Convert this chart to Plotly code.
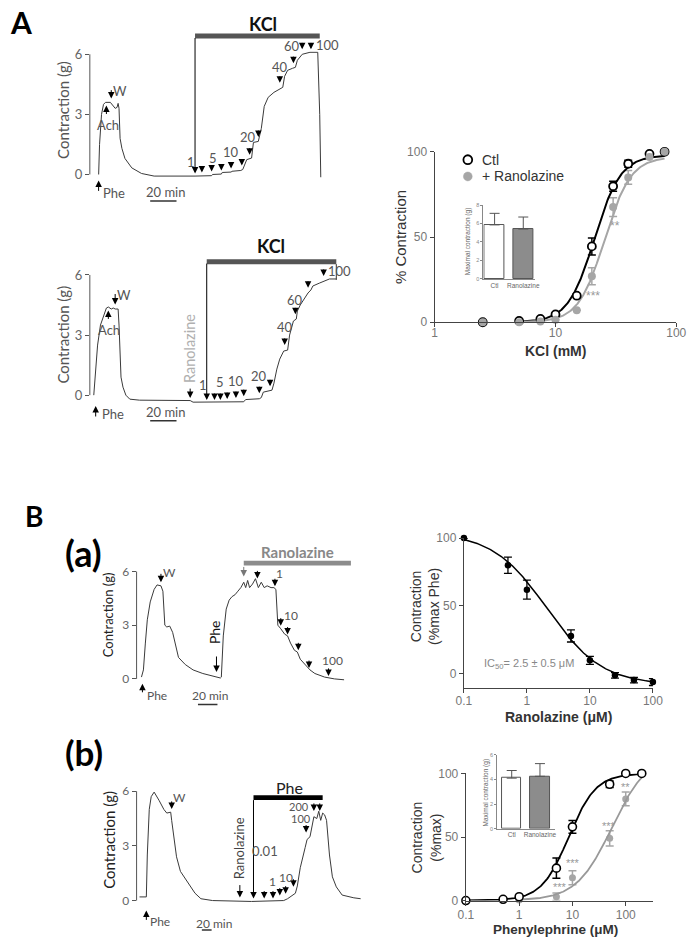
import numpy as np
import plotly.graph_objects as go

# ------------------------------------------------------------------ DATA
# Panel A - isometric tension recordings (time in min, force in g)
a1_time = [6.7, 7.4, 8.9, 10.4, 11.9, 15.6, 19.3, 20.7, 21.5, 22.2, 23.0, 24.4, 26.7, 31.9, 39.3,
           48.9, 80.0, 92.6, 93.3, 100.0, 100.7, 107.4, 108.1, 114.8, 116.3, 119.3, 123.0, 124.4,
           128.1, 130.4, 132.6, 135.6, 140.0, 145.2, 146.7, 148.1, 150.4, 154.1, 156.3, 157.8,
           161.5, 167.4, 173.3, 174.8, 175.6]
a1_force = [0.0, 1.5, 3.0, 3.5, 3.6, 3.6, 3.3, 3.35, 3.55, 3.3, 1.8, 1.3, 0.8, 0.33, 0.05,
            -0.08, -0.08, -0.06, 0.0, 0.02, 0.1, 0.12, 0.16, 0.2, 0.25, 0.74, 0.82, 1.6,
            1.65, 2.3, 3.4, 3.85, 4.1, 4.3, 4.35, 4.9, 5.2, 5.3, 5.35, 5.7,
            6.0, 6.1, 6.1, 3.0, -0.15]
a2_time = [3.0, 4.4, 5.9, 8.1, 10.4, 12.6, 14.1, 16.3, 17.8, 19.3, 21.5, 22.2, 23.7, 25.2, 27.4,
           30.4, 37.8, 76.3, 78.5, 117.0, 118.5, 128.9, 130.4, 131.9, 138.5, 140.0, 142.2, 144.4,
           147.4, 150.4, 151.9, 154.8, 157.0, 157.8, 160.0, 163.0, 165.9, 168.1, 169.6, 174.8,
           182.2, 187.4]
a2_force = [0.0, 1.4, 2.5, 3.5, 4.0, 4.35, 4.4, 4.3, 4.35, 4.3, 4.3, 3.5, 0.9, 0.4, 0.0,
            -0.2, -0.25, -0.27, -0.35, -0.33, -0.22, -0.18, -0.12, 0.15, 0.25, 0.6, 1.3, 1.8,
            2.2, 2.25, 3.0, 3.7, 3.8, 4.2, 4.5, 4.8, 5.1, 5.25, 5.45, 5.6,
            5.8, 5.8]

# Panel A - KCl concentration-response (% contraction)
kcl_conc = [2.5, 5, 7.5, 10, 15, 20, 30, 40, 60, 80]
kcl_ctl = [0, 0.8, 2, 4.6, 15.6, 44.5, 79.8, 93, 98.8, 100]
kcl_ctl_sem = [0, 0, 0, 0, 0, 5, 3, 2, 0, 0]
kcl_ran = [0, 0, 0.5, 1.5, 7, 27, 67.6, 85, 97, 100]
kcl_ran_sem = [0, 0, 0, 0, 0, 5, 5.5, 4, 0, 0]
kcl_fit_ctl = dict(top=98, ec50=21.0, n=4.0)
kcl_fit_ran = dict(top=97, ec50=25.5, n=4.0)
kcl_fit_span = [5, 80]
legend_labels = ["Ctl", "+ Ranolazine"]

# Insets - maximal contraction (g)
inset_groups = ["Ctl", "Ranolazine"]
kcl_max = [5.85, 5.4]
kcl_max_sem = [1.25, 1.3]
phe_max = [4.1, 4.25]
phe_max_sem = [0.62, 1.03]

# Panel B(a) - recording and ranolazine relaxation curve
ba_time = [5, 7, 9, 11, 14, 18, 21, 25, 27, 29, 31, 34, 37, 40, 43, 50, 58, 68, 83, 86,
           87, 89, 92, 95, 98, 101, 104, 107, 110, 112, 114, 116, 119, 122, 125, 128, 131, 134,
           138, 141, 143, 145, 148, 152, 155, 158, 162, 165, 168, 173, 178, 183, 188, 193, 203, 213]
ba_force = [0.1, 0.5, 2.0, 3.3, 4.3, 5.0, 5.25, 5.2, 4.9, 3.0, 2.9, 2.95, 2.6, 1.8, 1.2, 0.8,
            0.5, 0.3, 0.1, 0.05, 0.1, 2.4, 3.9, 4.4, 4.6, 4.7, 4.9, 5.1, 5.4, 5.1, 5.5, 5.1,
            5.3, 5.6, 5.1, 5.4, 5.1, 5.2, 5.1, 5.1, 5.0, 3.0, 2.8, 2.5, 2.4, 2.0, 1.6, 1.5,
            1.1, 0.8, 0.5, 0.3, 0.2, 0.1, 0.0, -0.05]
ran_conc = [0.1, 0.5, 1, 5, 10, 25, 50, 100]
ran_resp = [100, 80, 62, 28, 10, -1, -4.5, -6]
ran_sem = [0, 6, 7, 4.5, 3, 2, 2, 2.5]
ran_fit = dict(top=104, bottom=-8, ic50=2.1, n=1.0)

# Panel B(b) - recording and phenylephrine curve
bb_time = [6, 20, 22, 26, 30, 36, 46, 56, 62, 70, 72, 76, 82, 90, 100, 110, 120, 132, 156,
           236, 302, 310, 316, 326, 330, 336, 346, 350, 356, 360, 364, 370, 374, 378, 382, 386,
           390, 396, 402, 410, 422, 446, 460]
bb_force = [0.2, 0.2, 2.5, 5.0, 5.7, 5.95, 5.5, 5.0, 4.8, 4.85, 4.4, 3.5, 2.4, 1.6, 1.2, 0.8,
            0.4, 0.1, 0.0, -0.05, 0.0, 0.1, 0.2, 0.4, 0.8, 1.8, 2.9, 3.35, 3.5, 4.0, 4.6, 4.5,
            4.9, 4.4, 4.8, 4.7, 4.4, 2.5, 1.3, 0.75, 0.3, 0.15, 0.1]
phe_conc = [0.1, 0.5, 1, 5, 10, 50, 100, 200]
phe_ctl = [0, 1, 3, 25.5, 58, 91.5, 100, 100]
phe_ctl_sem = [0, 0, 0, 8, 5, 2.5, 0, 0]
phe_ran = [0, 0, 0.5, 3, 18, 49, 80, 100]
phe_ran_sem = [0, 0, 0, 3, 5.5, 6, 5.5, 0]
phe_fit_ctl = dict(top=100, ec50=8.5, n=1.7)
phe_fit_ran = dict(top=115, ec50=55, n=1.3)

scale_bar_min = 20

# ------------------------------------------------------------------ helpers
W, H = 697, 944
LATO = "Lato, 'Open Sans', sans-serif"
ARIAL = "'Liberation Sans', Arial, sans-serif"
GRAYM = "#a6a6a6"


def X(px):
    return px / W


def Y(py):
    return 1 - py / H


def hill_up(x, top, ec50, n):
    return top / (1 + (ec50 / x) ** n)


def hill_down(x, top, bottom, ic50, n):
    return bottom + (top - bottom) / (1 + (x / ic50) ** n)


annotations = []
shapes = []


def text(px, py, s, size=13, color="#555", bold=False, angle=0, family=LATO, xanchor="center"):
    if bold:
        s = "<b>" + s + "</b>"
    annotations.append(dict(x=X(px), y=Y(py), xref="paper", yref="paper", text=s, showarrow=False,
                            font=dict(size=size, color=color, family=family), textangle=angle,
                            xanchor=xanchor, yanchor="middle"))


def arrow(px, tip, tail, color="black", width=1.0, size=1.3):
    annotations.append(dict(x=X(px), y=Y(tip), xref="paper", yref="paper", ax=0, ay=tail - tip,
                            axref="pixel", ayref="pixel", text="", showarrow=True, arrowhead=2,
                            arrowsize=size, arrowwidth=width, arrowcolor=color, standoff=0))


def rect(x0, x1, y0, y1, color):
    shapes.append(dict(type="rect", xref="paper", yref="paper", x0=X(x0), x1=X(x1), y0=Y(y1),
                       y1=Y(y0), fillcolor=color, line=dict(width=0), layer="above"))


def vline(px, y0, y1, color="#333", width=1):
    shapes.append(dict(type="line", xref="paper", yref="paper", x0=X(px), x1=X(px), y0=Y(y0),
                       y1=Y(y1), line=dict(color=color, width=width)))


def legend_key(px, py, r, fill, edge, lw):
    shapes.append(dict(type="circle", xref="paper", yref="paper", x0=X(px - r), x1=X(px + r),
                       y0=Y(py + r), y1=Y(py - r), fillcolor=fill,
                       line=dict(color=edge, width=lw)))


def scalebar(axn, t0, py):
    xr = "x" if axn == 1 else "x%d" % axn
    shapes.append(dict(type="line", xref=xr, yref="paper", x0=t0, x1=t0 + scale_bar_min,
                       y0=Y(py), y1=Y(py), line=dict(color="#333", width=1.5)))


def axname(n):
    return ("xaxis", "yaxis") if n == 1 else ("xaxis%d" % n, "yaxis%d" % n)


def ref(n):
    return ("x", "y") if n == 1 else ("x%d" % n, "y%d" % n)


layout_axes = {}


def trace_panel(n, xpx0, xpx1, tmax, p0, p6, lo, hi, tsize=13):
    s = (p0 - p6) / 6.0
    top = p6 - (hi - 6) * s
    bot = p0 - lo * s
    xk, yk = axname(n)
    xr, yr = ref(n)
    layout_axes[xk] = dict(domain=[X(xpx0), X(xpx1)], range=[0, tmax], visible=False, anchor=yr)
    layout_axes[yk] = dict(domain=[Y(bot), Y(top)], range=[lo, hi], anchor=xr, tickvals=[0, 3, 6],
                           ticks="outside", ticklen=4, tickwidth=1, tickcolor="#555",
                           showline=False, showgrid=False, zeroline=False,
                           tickfont=dict(size=tsize, color="#666", family=LATO))
    shapes.append(dict(type="line", xref=xr + " domain", yref=yr, x0=0, x1=0, y0=0, y1=6,
                       line=dict(color="#555", width=1)))


def dr_panel(n, xdom, xrange, ydom, yrange, xt, yt, xtext=None, standoff=0):
    xk, yk = axname(n)
    xr, yr = ref(n)
    layout_axes[xk] = dict(domain=[X(xdom[0]), X(xdom[1])], type="log", range=xrange, anchor=yr,
                           showline=True, linecolor="#444", linewidth=1.3, ticks="outside",
                           ticklen=4, tickwidth=1.3, tickcolor="#444", tickvals=xt,
                           ticktext=xtext, showgrid=False, zeroline=False,
                           ticklabelstandoff=standoff,
                           tickfont=dict(size=12, color="#777", family=ARIAL))
    layout_axes[yk] = dict(domain=[Y(ydom[1]), Y(ydom[0])], range=yrange, anchor=xr,
                           showline=True, linecolor="#444", linewidth=1.3, ticks="outside",
                           ticklen=4, tickwidth=1.3, tickcolor="#444", tickvals=yt,
                           showgrid=False, zeroline=False,
                           tickfont=dict(size=12, color="#777", family=ARIAL))


def inset_panel(n, xdom, xrange, ydom, yrange, yt):
    xk, yk = axname(n)
    xr, yr = ref(n)
    layout_axes[xk] = dict(domain=[X(xdom[0]), X(xdom[1])], range=xrange, anchor=yr,
                           showline=True, linecolor="#888", linewidth=0.8, ticks="",
                           tickvals=[0, 1], ticktext=inset_groups, showgrid=False, zeroline=False,
                           tickfont=dict(size=6.5, color="#666", family=ARIAL))
    layout_axes[yk] = dict(domain=[Y(ydom[1]), Y(ydom[0])], range=yrange, anchor=xr,
                           showline=True, linecolor="#888", linewidth=0.8, ticks="outside",
                           ticklen=2, tickwidth=0.8, tickcolor="#888", tickvals=yt,
                           showgrid=False, zeroline=False,
                           tickfont=dict(size=5.5, color="#888", family=ARIAL))


fig = go.Figure()

# ------------------------------------------------------------------ panels / axes
trace_panel(1, 84, 340, (340 - 84) / 1.35, 170, 48, -0.15, 6.15)
trace_panel(2, 84, 345, (345 - 84) / 1.35, 394, 272, -0.45, 6.15)
dr_panel(3, [438, 686], [0, 2], [147, 320], [0, 100], [1, 10, 100], [0, 50, 100], standoff=-5)
inset_panel(4, [488, 541], [-0.39, 1.41], [201, 276], [0, 8], [0, 2, 4, 6, 8])
trace_panel(5, 132, 360, 228, 682, 573, -0.3, 6.3, tsize=12)
dr_panel(6, [468, 662], [-1, 2], [539, 690.8], [-10, 100], [0.1, 1, 10, 100], [0, 50, 100],
         ["0.1", "1", "10", "100"], standoff=-2)
trace_panel(7, 132, 365, 466, 907, 796, -0.3, 6.3, tsize=12)
dr_panel(8, [470, 662], [-1, 2.51], [778, 907], [0, 100], [0.1, 1, 10, 100], [0, 50, 100],
         ["0.1", "1", "10", "100"], standoff=-1)
inset_panel(9, [502, 562], [-0.52, 1.55], [759, 834], [0, 6], [0, 2, 4, 6])

TR = dict(color="#3a3a3a", width=1)

# ------------------------------------------------------------------ recordings
for n, t, f in [(1, a1_time, a1_force), (2, a2_time, a2_force), (5, ba_time, ba_force),
                (7, bb_time, bb_force)]:
    xr, yr = ref(n)
    fig.add_trace(go.Scatter(x=t, y=f, xaxis=xr, yaxis=yr, mode="lines", line=TR,
                             showlegend=False, hoverinfo="skip"))

# ------------------------------------------------------------------ KCl curve (A right)
xs = np.logspace(np.log10(kcl_fit_span[0]), np.log10(kcl_fit_span[1]), 200)
fig.add_trace(go.Scatter(x=kcl_conc, y=kcl_ctl, xaxis="x3", yaxis="y3", mode="markers",
                         marker=dict(size=1, opacity=0), showlegend=False, hoverinfo="skip",
                         error_y=dict(type="data", array=kcl_ctl_sem, color="black", thickness=1.5,
                                      width=4)))
fig.add_trace(go.Scatter(x=kcl_conc, y=kcl_ran, xaxis="x3", yaxis="y3", mode="markers",
                         marker=dict(size=1, opacity=0), showlegend=False, hoverinfo="skip",
                         error_y=dict(type="data", array=kcl_ran_sem, color=GRAYM, thickness=1.5,
                                      width=4)))
fig.add_trace(go.Scatter(x=xs, y=hill_up(xs, **kcl_fit_ctl), xaxis="x3", yaxis="y3", mode="lines",
                         line=dict(color="black", width=2), showlegend=False, hoverinfo="skip"))
fig.add_trace(go.Scatter(x=xs, y=hill_up(xs, **kcl_fit_ran), xaxis="x3", yaxis="y3", mode="lines",
                         line=dict(color=GRAYM, width=2), showlegend=False, hoverinfo="skip"))
fig.add_trace(go.Scatter(x=kcl_conc, y=kcl_ctl, xaxis="x3", yaxis="y3", mode="markers",
                         name=legend_labels[0],
                         marker=dict(size=8, color="white", line=dict(color="black", width=1.8)),
                         cliponaxis=False, showlegend=False))
fig.add_trace(go.Scatter(x=kcl_conc, y=kcl_ran, xaxis="x3", yaxis="y3", mode="markers",
                         name=legend_labels[1], marker=dict(size=8, color=GRAYM), cliponaxis=False,
                         showlegend=False))

# inset A
fig.add_trace(go.Bar(x=[0, 1], y=kcl_max, xaxis="x4", yaxis="y4", width=0.68,
                     marker=dict(color=["white", "#8c8c8c"], line=dict(color="#555", width=1)),
                     error_y=dict(type="data", symmetric=False, array=kcl_max_sem,
                                  arrayminus=[0, 0], color="#555", thickness=1, width=5),
                     showlegend=False, hoverinfo="skip"))

# ------------------------------------------------------------------ ranolazine curve (B a right)
xs = np.logspace(-1, 2, 200)
fig.add_trace(go.Scatter(x=xs, y=hill_down(xs, **ran_fit), xaxis="x6", yaxis="y6", mode="lines",
                         line=dict(color="black", width=1.5), showlegend=False, hoverinfo="skip"))
fig.add_trace(go.Scatter(x=ran_conc, y=ran_resp, xaxis="x6", yaxis="y6", mode="markers",
                         marker=dict(size=6.5, color="black"), cliponaxis=False, showlegend=False,
                         error_y=dict(type="data", array=ran_sem, color="black", thickness=1.3,
                                      width=4)))

# ------------------------------------------------------------------ phenylephrine curve (B b right)
xs_c = np.logspace(-1, np.log10(200), 200)
xs_r = np.logspace(0, np.log10(200), 200)
fig.add_trace(go.Scatter(x=phe_conc, y=phe_ran, xaxis="x8", yaxis="y8", mode="markers",
                         marker=dict(size=7, color=GRAYM), cliponaxis=False, showlegend=False,
                         error_y=dict(type="data", array=phe_ran_sem, color=GRAYM, thickness=1.5,
                                      width=4)))
fig.add_trace(go.Scatter(x=xs_r, y=hill_up(xs_r, **phe_fit_ran), xaxis="x8", yaxis="y8",
                         mode="lines", line=dict(color="#999", width=1.8), showlegend=False,
                         hoverinfo="skip"))
fig.add_trace(go.Scatter(x=xs_c, y=hill_up(xs_c, **phe_fit_ctl), xaxis="x8", yaxis="y8",
                         mode="lines", line=dict(color="black", width=1.8), showlegend=False,
                         hoverinfo="skip"))
fig.add_trace(go.Scatter(x=phe_conc, y=phe_ctl, xaxis="x8", yaxis="y8", mode="markers",
                         marker=dict(size=8, color="white", line=dict(color="black", width=1.6)),
                         cliponaxis=False, showlegend=False,
                         error_y=dict(type="data", array=phe_ctl_sem, color="black",
                                      thickness=1.5, width=4)))

# inset B
fig.add_trace(go.Bar(x=[0, 1], y=phe_max, xaxis="x9", yaxis="y9", width=0.69,
                     marker=dict(color=["white", "#8c8c8c"], line=dict(color="#555", width=1)),
                     error_y=dict(type="data", symmetric=False, array=phe_max_sem,
                                  arrayminus=[0, 0], color="#555", thickness=1, width=5),
                     showlegend=False, hoverinfo="skip"))

# ------------------------------------------------------------------ annotations panel A
text(13, 15, "A", size=30, color="black", bold=True)
# A1
text(262, 17, "KCl", size=18, color="#111", bold=True)
rect(192, 320, 27, 32, "#555")
arrow(192, 169, 32, width=1)
text(57, 105, "Contraction (g)", size=15, color="#555", angle=-90)
arrow(93, 176, 188)
text(109, 189, "Phe", size=13)
scalebar(1, 45.9, 197)
text(162, 188, "20 min", size=13)
arrow(101, 100, 110)
text(103, 120, "Ach", size=13)
arrow(106, 93, 83)
text(115, 85, "W", size=13)
for px, tip in [(199, 168), (209, 167), (219, 166), (229, 164), (240, 161), (248, 150),
                (257, 132), (279, 77), (293, 57), (302, 43), (311, 43)]:
    arrow(px, tip, tip - 8)
for (px, py), s in zip([(188, 157), (210, 153), (229, 147), (246, 132), (279, 61), (292, 40), (328, 39)],
                       ["1", "5", "10", "20", "40", "60", "100"]):
    text(px, py, s, size=13)

# A2
text(270, 243, "KCl", size=18, color="#111", bold=True)
rect(204, 337, 256, 261, "#555")
arrow(204, 399, 261, width=1)
vline(337, 261, 277)
text(57, 333, "Contraction (g)", size=15, color="#555", angle=-90)
arrow(103, 308, 318)
text(104, 328, "Ach", size=13)
arrow(110, 302, 290)
text(119, 292, "W", size=13)
arrow(90, 405, 417)
text(108, 413, "Phe", size=13)
scalebar(2, 45.9, 420)
text(162, 411, "20 min", size=13)
text(187, 347, "Ranolazine", size=14.5, color="#b0b0b0", angle=-90)
arrow(187, 397, 386)
for px, tip in [(212, 399), (218, 399), (225, 398), (234, 397), (242, 395), (258, 392),
                (269, 385), (284, 343), (295, 312), (308, 285), (324, 273)]:
    arrow(px, tip, tip - 8)
for (px, py), s in zip([(200, 384), (218, 381), (234, 380), (258, 375), (284, 325), (295, 297), (340, 268)],
                       ["1", "5", "10", "20", "40", "60", "100"]):
    text(px, py, s, size=13)

# A right
text(403, 234, "% Contraction", size=15, color="#333", angle=-90, family=ARIAL)
text(562, 349, "KCl (mM)", size=14, color="#333", bold=True, family=ARIAL)
text(601, 293, "***", size=12, color="#999", family=ARIAL)
text(623, 222, "**", size=12, color="#999", family=ARIAL)
text(473, 238, "Maximal contraction (g)", size=6.5, color="#666", angle=-90, family=ARIAL)
legend_key(472, 155, 4.5, "white", "black", 1.8)
legend_key(472, 172, 4.5, GRAYM, GRAYM, 0.5)
text(484, 155, legend_labels[0], size=14, color="#333", family=ARIAL, xanchor="left")
text(484, 172, legend_labels[1], size=14, color="#333", family=ARIAL, xanchor="left")

# ------------------------------------------------------------------ annotations panel B
text(27, 517, "B", size=28, color="black", bold=True)
text(77, 554, "(a)", size=36, color="black", bold=True)
text(78, 756, "(b)", size=35, color="black", bold=True)

# B(a) left
text(102, 617, "Contraction (g)", size=13, color="#222", angle=-90)
arrow(157, 584, 574)
text(166, 574, "W", size=12)
text(212, 635, "Phe", size=14, color="#111", angle=-90)
arrow(214, 675, 658)
rect(242, 352, 562, 567, "#8c8c8c")
text(297, 553, "Ranolazine", size=15, color="#888", bold=True)
arrow(242, 578, 567, color="#777")
for px, tip in [(256, 580), (274, 588), (280, 628), (287, 637), (298, 653), (309, 671), (329, 679)]:
    arrow(px, tip, tip - 9)
text(279, 575, "1", size=12)
text(291, 618, "10", size=12)
text(333, 663, "100", size=12)
arrow(138, 687, 697)
text(153, 699, "Phe", size=12)
scalebar(5, 63, 708)
text(207, 699, "20 min", size=12)

# B(a) right
text(428, 608, "Contraction<br>(%max Phe)", size=14, color="#333", angle=-90, family=ARIAL)
text(565, 721, "Ranolazine (μM)", size=14, color="#333", bold=True, family=ARIAL)
text(487, 667, "IC<sub>50</sub>= 2.5 ± 0.5 μM", size=11, color="#888", family=ARIAL,
     xanchor="left")

# B(b) left
text(104, 845, "Contraction (g)", size=15, color="#222", angle=-90)
arrow(168, 814, 805)
text(176, 802, "W", size=12)
text(237, 854, "Ranolazine", size=13, color="#444", angle=-90)
arrow(238, 904, 890)
rect(252, 323, 800, 805, "black")
text(289, 792, "Phe", size=16, color="#222")
arrow(252, 905, 805, width=1)
text(264, 857, "0.01", size=13)
for px, tip in [(263, 905), (272, 905), (279, 902), (285, 900), (293, 893), (306, 838),
                (314, 816), (320, 816)]:
    arrow(px, tip, tip - 9)
text(271, 888, "1", size=12)
text(285, 884, "10", size=12)
text(301, 824, "100", size=11)
text(299, 812, "200", size=11)
arrow(142, 917, 928)
text(156, 928, "Phe", size=12)
scalebar(7, 134, 937)
text(211, 930, "20 min", size=12)

# B(b) right
text(430, 843, "Contraction<br>(%max)", size=14, color="#333", angle=-90, family=ARIAL)
text(562, 936, "Phenylephrine (μM)", size=13.5, color="#333", bold=True, family=ARIAL)
for px, py, s in [(567, 893, "***"), (580, 869, "***"), (617, 831, "***"), (634, 792, "**")]:
    text(px, py, s, size=11, color="#999", family=ARIAL)
text(491, 797, "Maximal contraction (g)", size=6.5, color="#666", angle=-90, family=ARIAL)

fig.update_layout(
    width=W, height=H, margin=dict(l=0, r=0, t=0, b=0),
    paper_bgcolor="white", plot_bgcolor="rgba(0,0,0,0)",
    annotations=annotations, shapes=shapes,
    showlegend=False,
    bargap=0,
    **layout_axes,
)

fig.write_html("out.html", config={"displayModeBar": False},
               post_script="document.body.style.margin='0';")
